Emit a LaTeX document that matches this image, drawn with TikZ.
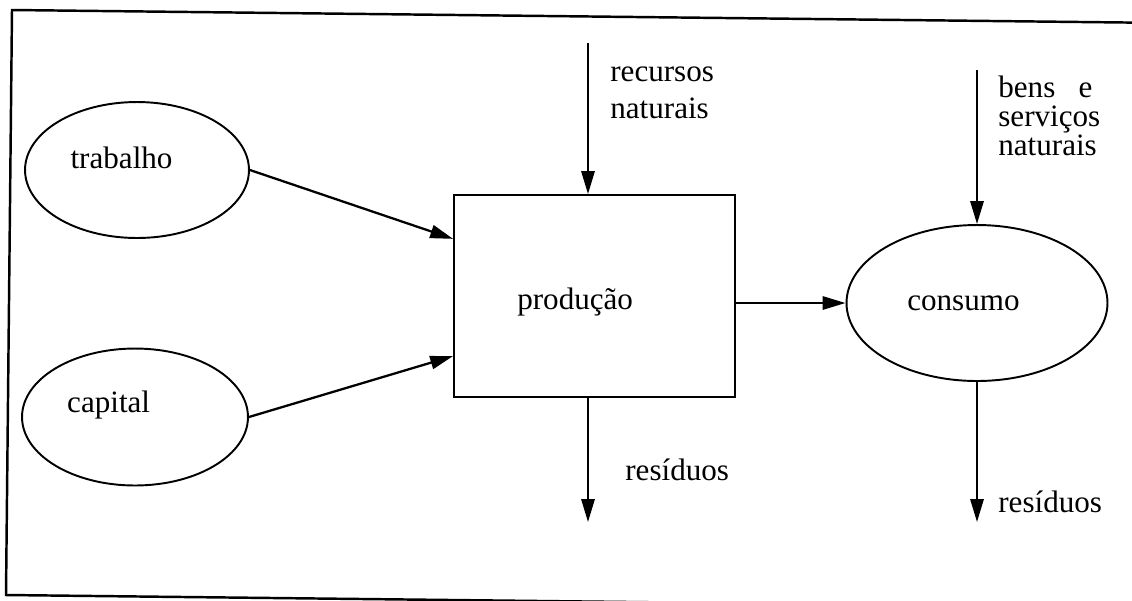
\documentclass[tikz,border=0pt]{standalone}
\usepackage{fontspec}
\setmainfont{Liberation Serif}
\usetikzlibrary{shapes.geometric, arrows.meta, positioning}
\tikzstyle{arrow} = [line width=1.3pt, -{Triangle[length=13pt, width=7.5pt]}]
\tikzstyle{fator} = [ellipse, draw, line width=1.1pt, inner sep=0pt]
\tikzstyle{rotulo} = [inner sep=0pt, align=left]

\begin{document}
\begin{tikzpicture}[x=0.02cm, y=-0.02cm, font=\fontsize{17.7}{21}\selectfont]
        \useasboundingbox (0,0) rectangle (1132,600);
        \clip (0,0) rectangle (1132,600);

        % moldura
        \draw[line width=1.4pt] (12,10) -- (1170,23) -- (1164,608) -- (6,595) -- cycle;

        \node at (137,170) [fator, minimum width=4.48cm, minimum height=2.72cm,
            label={[anchor=base, xshift=-8.8pt, yshift=6.8pt]center:trabalho}] (trab) {};
        \node at (135,417) [fator, minimum width=4.52cm, minimum height=2.74cm,
            label={[anchor=base, xshift=-15pt, yshift=6.8pt]center:capital}] (cap) {};
        \node at (594.5,296) [draw, line width=1.1pt, minimum width=5.62cm, minimum height=4.04cm,
            label={[anchor=base, xshift=-11pt, yshift=-3.4pt]center:produção}] (prod) {};
        \node at (977,303) [fator, minimum width=5.22cm, minimum height=3.12cm,
            label={[anchor=base, xshift=-7.7pt]center:consumo}] (cons) {};

        \coordinate (recursos) at (588,43);
        \coordinate (bens) at (977,70);
        \coordinate (saida) at (588,522);

        \draw[arrow] (trab.east) -- (prod.158);
        \draw[arrow] (cap.east) -- (prod.203);
        \draw[arrow] (recursos) -- (recursos |- prod.north);
        \draw[arrow] (prod.east |- cons.west) -- (cons.west);
        \draw[arrow] (bens) -- (cons.north);
        \draw[arrow] (recursos |- prod.south) -- (saida);
        \draw[arrow] (cons.south) -- (cons.south |- saida);

        % base = linha de baixo
        \node[rotulo, anchor=base west] at (610,118) (txtrec) {recursos\\naturais};
        \node[rotulo, anchor=base west, font=\fontsize{17.7}{16.4}\selectfont] at (998,155) (txtbens) {bens~~~e\\serviços\\naturais};
        \node[rotulo, anchor=base west] at (625,480) (txtres1) {resíduos};
        \node[rotulo, anchor=base west] at (998,512) (txtres2) {resíduos};

\end{tikzpicture}
\end{document}
